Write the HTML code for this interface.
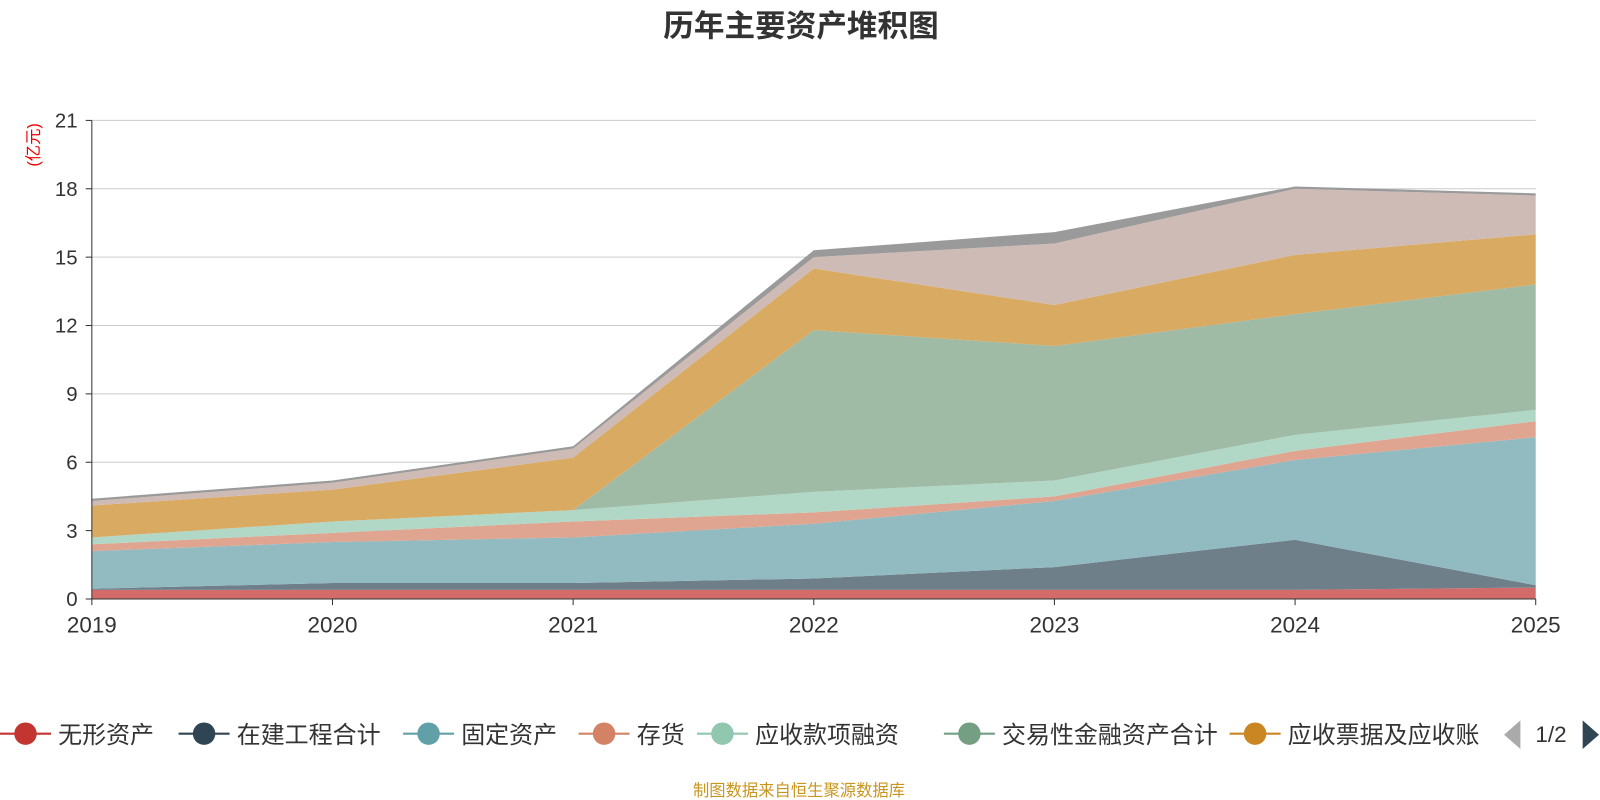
<!DOCTYPE html>
<html><head><meta charset="utf-8">
<style>
body{margin:0;background:#fff;font-family:"Liberation Sans","Noto Sans CJK SC",sans-serif;}
#wrap{position:relative;width:1600px;height:800px;overflow:hidden;}
</style></head>
<body>
<div id="wrap">
<svg id="svg" width="1600" height="800" viewBox="0 0 1568 784"></svg>
</div>
<script>
const years = ["2019","2020","2021","2022","2023","2024","2025"];
const seriesNames = ["无形资产","在建工程合计","固定资产","存货","应收款项融资","交易性金融资产合计","应收票据及应收账","其他资产","其他"];
const intangible = [0.4,0.4,0.4,0.4,0.4,0.4,0.5];
const construction = [0.05,0.3,0.3,0.5,1.0,2.2,0.1];
const fixedAssets = [1.65,1.8,2.0,2.4,2.9,3.5,6.5];
const inventory = [0.3,0.4,0.7,0.5,0.2,0.4,0.7];
const receivableFin = [0.3,0.5,0.5,0.9,0.7,0.7,0.5];
const tradingFin = [0,0,0,7.1,5.9,5.3,5.5];
const receivables = [1.4,1.4,2.3,2.7,1.8,2.6,2.2];
const otherA = [0.2,0.3,0.4,0.5,2.7,2.9,1.7];
const otherB = [0.1,0.1,0.1,0.3,0.5,0.1,0.1];
const yTicks = [0,3,6,9,12,15,18,21];
const allSeries = [intangible,construction,fixedAssets,inventory,receivableFin,tradingFin,receivables,otherA,otherB];
const fills = ["#d46b6b","#6f7f8a","#91bbc1","#e0a590","#b1d8c6","#9fbba6","#d9aa62","#cfbbb5","#9a9a9a"];
const svg=document.getElementById('svg');const NS="http://www.w3.org/2000/svg";
function el(t,a,p){const e=document.createElementNS(NS,t);for(const k in a)e.setAttribute(k,a[k]);(p||svg).appendChild(e);return e;}
const X=i=>90+i*(1505-90)/(years.length-1);
const Y=v=>587-v*(587-118)/21;
let t=el('text',{x:785,y:36,'text-anchor':'middle','font-size':30,'font-weight':'bold',fill:'#333'});t.textContent='历年主要资产堆积图';

yTicks.forEach(v=>{const g=el('line',{x1:90,x2:1505,y1:Y(v),y2:Y(v),stroke:'#ccc','stroke-width':1});

const l=el('text',{x:76,y:Y(v)+7,'text-anchor':'end','font-size':20,fill:'#333'});l.textContent=v;

el('line',{x1:84,x2:90,y1:Y(v),y2:Y(v),stroke:'#333'});});
let u=el('text',{x:38,y:142,'font-size':16,fill:'#e00','text-anchor':'middle',transform:'rotate(-90 38 142)'});u.textContent='(亿元)';

let base=years.map(()=>0);
allSeries.forEach((s,k)=>{const top=base.map((b,i)=>b+s[i]);
let d='M'+years.map((_,i)=>X(i)+','+Y(top[i])).join(' L');
for(let i=years.length-1;i>=0;i--)d+=' L'+X(i)+','+Y(base[i]);d+='Z';
const p=el('path',{d,fill:fills[k],stroke:'none'});

base=top;});
el('line',{x1:90,x2:90,y1:118,y2:587,stroke:'#333'});
el('line',{x1:90,x2:1505,y1:587,y2:587,stroke:'#333'});
years.forEach((y,i)=>{el('line',{x1:X(i),x2:X(i),y1:587,y2:593,stroke:'#333'});
const l=el('text',{x:X(i),y:620,'text-anchor':'middle','font-size':22,fill:'#333'});l.textContent=y;
});
const legX=[0,175,395,567,683,925,1205];
const legC=["#c23531","#2f4554","#61a0a8","#d48265","#91c7ae","#749f83","#ca8622"];
legX.forEach((x,i)=>{const g=el('g',{});
el('line',{x1:x,x2:x+50,y1:719,y2:719,stroke:legC[i],'stroke-width':2},g);
el('circle',{cx:x+25,cy:719,r:11,fill:legC[i]},g);
const tx=el('text',{x:x+57,y:728,'font-size':23.5,fill:'#333'},g);tx.textContent=seriesNames[i];});
const pl=el('path',{d:'M1490,706 L1490,734 L1474,720Z',fill:'#aaa'});
const pt=el('text',{x:1520,y:727,'text-anchor':'middle','font-size':22,fill:'#333'});pt.textContent='1/2';

const pn=el('path',{d:'M1551,706 L1551,734 L1567,720Z',fill:'#2f4554'});
const src=el('text',{x:783,y:780,'text-anchor':'middle','font-size':16,fill:'#c8961e'});src.textContent='制图数据来自恒生聚源数据库';

</script>
</body></html>
